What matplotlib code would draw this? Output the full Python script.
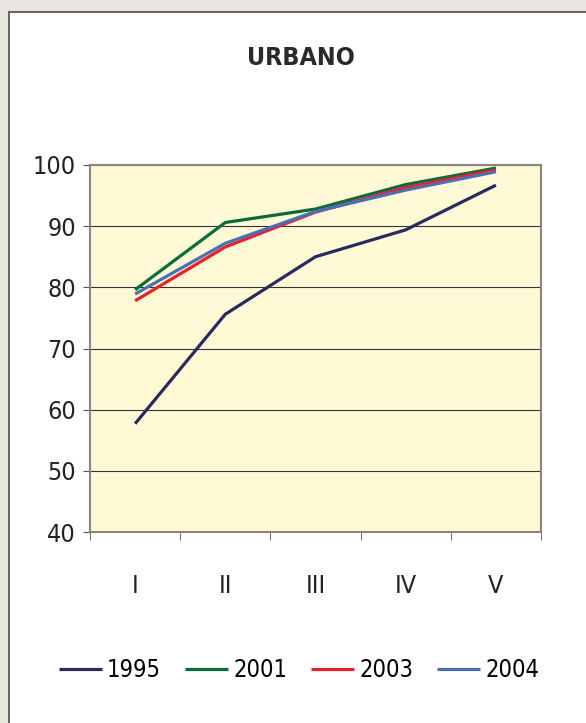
import matplotlib.pyplot as plt
from matplotlib.patches import Rectangle

# datos
quintiles = ['I', 'II', 'III', 'IV', 'V']
años = ['1995', '2001', '2003', '2004']
v1995 = [57.7, 75.6, 85.0, 89.4, 96.7]
v2001 = [79.6, 90.6, 92.8, 96.8, 99.5]
v2003 = [77.8, 86.6, 92.3, 96.3, 99.2]
v2004 = [78.9, 87.2, 92.4, 95.9, 98.9]
colores = ['#2b2a5e', '#0a6b3c', '#e8202a', '#4a6fb5']

plt.rcParams['font.family'] = ['DejaVu Sans']
plt.rcParams['font.stretch'] = 'condensed'

fig = plt.figure(figsize=(5.86, 7.23), dpi=100, facecolor='#e8e4e0')
fig.patches.append(Rectangle((9 / 586, -0.05), 1.0, 0.05 + (723 - 12) / 723,
                             transform=fig.transFigure, facecolor='white',
                             edgecolor='#4a4a4a', linewidth=1.2, zorder=-5))

ax = fig.add_axes([90 / 586, (723 - 532) / 723, 451 / 586, 367 / 723])
ax.set_facecolor('#fff9d6')

x = range(len(quintiles))
for serie, nombre, c in zip([v1995, v2001, v2003, v2004], años, colores):
    ax.plot(x, serie, color=c, linewidth=2.3, label=nombre, solid_capstyle='butt')

ax.set_xlim(-0.5, 4.5)
ax.set_ylim(40, 100)
ax.set_yticks(range(40, 101, 10))
ax.yaxis.grid(True, color='#333333', linewidth=0.8)
ax.set_axisbelow(True)

ax.set_xticks(list(x))
ax.set_xticklabels(quintiles)
ax.set_xticks([i + 0.5 for i in range(-1, 5)], minor=True)
ax.tick_params(axis='x', which='major', length=0, pad=30, labelsize=18, colors='#222222')
ax.tick_params(axis='x', which='minor', length=6, color='#555555', direction='out')
ax.tick_params(axis='y', length=5, color='#555555', pad=5, labelsize=18, labelcolor='#222222')

for s in ax.spines.values():
    s.set_color('#8c8480')
    s.set_linewidth(1.5)

fig.text(0.513, (723 - 58) / 723, 'URBANO', ha='center', va='center',
         fontsize=18, fontweight='bold', color='#2a2a2a')

fig.legend(loc='center', bbox_to_anchor=(0.51, (723 - 670) / 723), ncol=4,
           frameon=False, fontsize=17, handlelength=1.85, handletextpad=0.2,
           columnspacing=1.0)

fig.savefig('out.png', dpi=100, facecolor=fig.get_facecolor())
